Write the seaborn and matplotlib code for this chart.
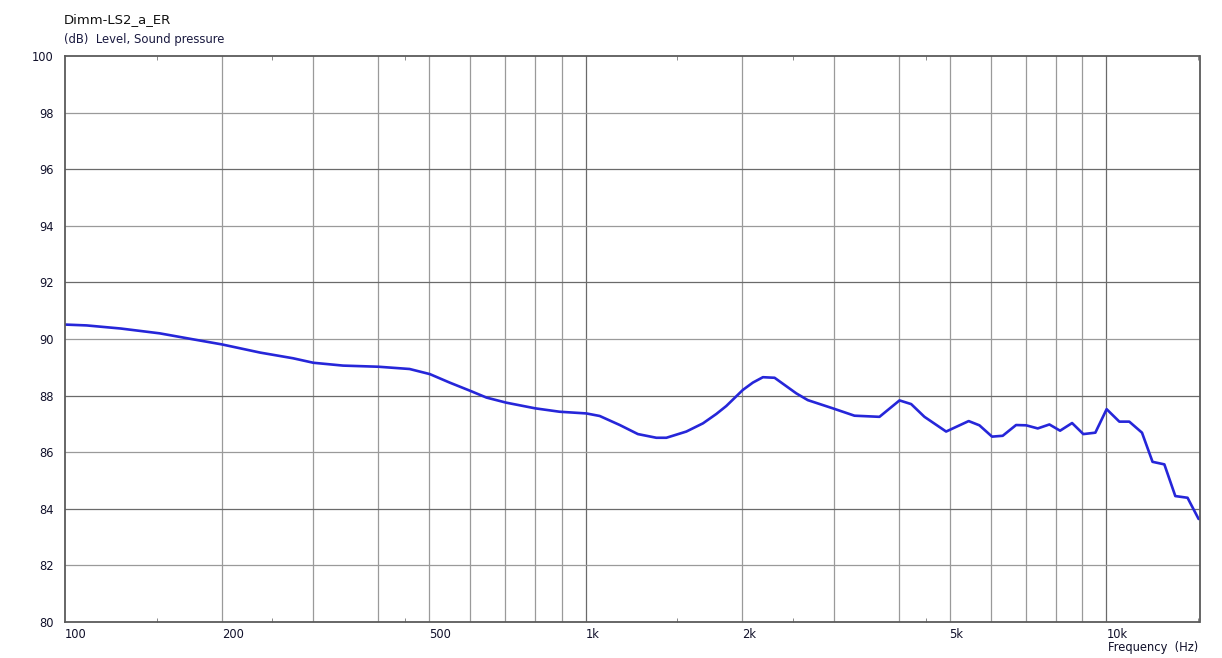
import matplotlib
matplotlib.use("Agg")
import matplotlib.pyplot as plt
import seaborn as sns
import pandas as pd
from matplotlib.ticker import NullFormatter

# frequenz (Hz) und pegel (dB)
freq = [100, 110, 128, 152, 176, 200, 237, 274, 300, 342, 400, 459, 502, 548,
        600, 645, 704, 800, 891, 1003, 1064, 1163, 1260, 1367, 1429, 1561, 1680,
        1782, 1862, 2004, 2095, 2190, 2306, 2538, 2671, 2983, 3283, 3667, 4007,
        4219, 4474, 4924, 5441, 5705, 6033, 6324, 6709, 7015, 7384, 7775, 8151,
        8595, 9034, 9526, 10014, 10593, 11069, 11709, 12268, 12926, 13568,
        14322, 15041]
level = [90.51, 90.48, 90.37, 90.20, 89.99, 89.81, 89.52, 89.32, 89.16, 89.06,
         89.02, 88.94, 88.76, 88.46, 88.17, 87.93, 87.75, 87.55, 87.43, 87.37,
         87.28, 86.96, 86.64, 86.51, 86.51, 86.73, 87.02, 87.35, 87.63, 88.20,
         88.46, 88.65, 88.63, 88.08, 87.84, 87.55, 87.29, 87.25, 87.83, 87.70,
         87.25, 86.73, 87.10, 86.95, 86.55, 86.58, 86.96, 86.95, 86.84, 86.98,
         86.76, 87.03, 86.64, 86.69, 87.52, 87.08, 87.08, 86.69, 85.66, 85.57,
         84.45, 84.39, 83.64]

x_labels = ["100", "200", "500", "1k", "2k", "5k", "10k"]
x_label_pos = [100, 200, 500, 1000, 2000, 5000, 10000]
grid_minor = [200, 300, 400, 500, 600, 700, 800, 900,
              2000, 3000, 4000, 5000, 6000, 7000, 8000, 9000]
grid_major = [1000, 10000]
small_ticks = [150, 250, 450, 1500, 2500, 4500, 15000]
y_ticks = list(range(80, 101, 2))

df = pd.DataFrame({"freq": freq, "level": level})

sns.set_style("white")
plt.rcParams["font.family"] = ["DejaVu Sans"]

fig = plt.figure(figsize=(12.22, 6.58), dpi=100)
ax = fig.add_axes([65 / 1222, 1 - 622 / 658, (1199.5 - 65) / 1222, (622 - 56) / 658])

# raster
for f in grid_minor:
    ax.axvline(f, color="#9a9a9a", lw=0.9, zorder=0)
for f in grid_major:
    ax.axvline(f, color="#6a6a6a", lw=0.9, zorder=0)
for v in y_ticks[1:-1]:
    col = "#6a6a6a" if v % 4 == 0 else "#9a9a9a"
    ax.axhline(v, color=col, lw=0.9, zorder=0)

sns.lineplot(data=df, x="freq", y="level", color="#2626d9", lw=1.9, ax=ax)

ax.set_xscale("log")
ax.set_xlim(100, 15100)
ax.set_ylim(80, 100)

ax.set_xticks(x_label_pos)
ax.set_xticklabels(x_labels, ha="left", fontsize=8.3, color="#10102a")
ax.set_xticks(small_ticks, minor=True)
ax.xaxis.set_minor_formatter(NullFormatter())
ax.tick_params(axis="x", which="major", length=0, pad=4)
ax.tick_params(axis="x", which="minor", length=3, direction="in",
               top=True, bottom=True, color="#777777")
ax.set_yticks(y_ticks)
ax.set_yticklabels([str(v) for v in y_ticks], fontsize=8.3, color="#10102a")
ax.tick_params(axis="y", length=0, pad=8)

for sp in ax.spines.values():
    sp.set_color("#5a5a5a")
    sp.set_linewidth(1.3)

ax.set_xlabel("")
ax.set_ylabel("")

fig.text(64 / 1222, 1 - 20 / 658, "Dimm-LS2_a_ER", fontsize=9.5,
         color="#111111", va="center", ha="left")
fig.text(64 / 1222, 1 - 39 / 658, "(dB)  Level, Sound pressure", fontsize=8.4,
         color="#1a1a40", va="center", ha="left")
fig.text(1108 / 1222, 1 - 647 / 658, "Frequency  (Hz)", fontsize=8.3,
         color="#10102a", va="center", ha="left")

fig.savefig("out.png", dpi=100, facecolor="white")
